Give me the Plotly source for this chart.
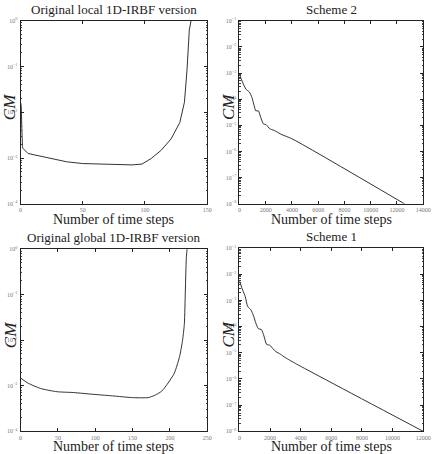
import plotly.graph_objects as go

# ---- data ----
local_steps = [0, 0.5, 1.5, 2, 6, 24, 37, 50, 63.5, 76.6, 89.7, 97.6, 105, 113, 121, 128, 131.7, 133.8, 135.6, 137, 140]
local_cm = [1.66e-2, 1.4e-2, 1.78e-3, 1.62e-3, 1.26e-3, 9.8e-4, 8.3e-4, 7.6e-4, 7.4e-4, 7.2e-4, 7.1e-4, 7.4e-4,
            9.8e-4, 1.48e-3, 2.63e-3, 6.0e-3, 1.66e-2, 8.7e-2, 0.63, 1.0, 3.0]

scheme2_steps = [0, 250, 500, 750, 950, 1120, 1245, 1445, 1620, 1820, 2040, 2320, 2620, 3240, 3990, 12580]
scheme2_cm = [8.9e-4, 4.3e-4, 2.4e-4, 1.9e-4, 1.17e-4, 5.6e-5, 3.6e-5, 3.6e-5, 2.0e-5, 1.15e-5, 1.05e-5,
              7.4e-6, 6.5e-6, 4.4e-6, 3.1e-6, 1.0e-8]

global_steps = [0, 9.6, 27, 49, 70.8, 97, 123, 149.5, 171, 180, 189, 197.6, 206, 213, 217, 219.4, 220.7, 222, 223, 225]
global_cm = [1.48e-3, 1.15e-3, 8.7e-4, 7.4e-4, 7.1e-4, 6.5e-4, 6.0e-4, 5.5e-4, 5.5e-4, 6.2e-4, 7.6e-4, 1.15e-3,
             1.9e-3, 4.4e-3, 1.0e-2, 2.3e-2, 0.12, 0.63, 1.0, 3.0]

scheme1_steps = [0, 213, 384, 534, 747, 897, 1068, 1238, 1430, 1600, 1772, 1986, 2178, 2391, 2669, 2989, 3736, 12000]
scheme1_cm = [5.6e-3, 2.45e-3, 1.38e-3, 5.9e-4, 4.4e-4, 2.8e-4, 1.38e-4, 8.3e-5, 7.8e-5, 4.4e-5, 2.1e-5, 1.95e-5,
              1.45e-5, 1.1e-5, 8.9e-6, 6.6e-6, 3.7e-6, 1.0e-8]

left_ytick_exps = [0, -1, -2, -3, -4]
right_ytick_exps = [-1, -2, -3, -4, -5, -6, -7, -8]

titles = ["Original local 1D-IRBF version", "Scheme 2", "Original global 1D-IRBF version", "Scheme 1"]
xlabel = "Number of time steps"
ylabel = "<i>CM</i>"

W, H = 439, 454
LINE = "#333333"
SERIF = "Liberation Serif, DejaVu Serif, serif"

# panel boxes in pixels: (left, right, top, bottom)
boxes = [(19, 210, 17, 203), (243, 431, 17, 203), (19, 210, 249, 434), (243, 431, 248, 434)]
xranges = [[0, 150], [0, 14000], [0, 250], [0, 12000]]
xdticks = [50, 2000, 50, 2000]
yranges = [[-4, 0], [-8, -1], [-4, 0], [-8, -1]]
yexps = [left_ytick_exps, right_ytick_exps, left_ytick_exps, right_ytick_exps]
series = [(local_steps, local_cm, "linear"), (scheme2_steps, scheme2_cm, "spline"),
          (global_steps, global_cm, "spline"), (scheme1_steps, scheme1_cm, "spline")]


def sup(e):
    s = str(e).replace("-", "\u2212")
    return f"10<sup>{s}</sup>"


fig = go.Figure()
annotations = []
for i in range(4):
    l, r, t, b = boxes[i]
    xs, ys, shape = series[i]
    xa = "x" if i == 0 else f"x{i+1}"
    ya = "y" if i == 0 else f"y{i+1}"
    fig.add_trace(go.Scatter(x=xs, y=ys, mode="lines", xaxis=xa, yaxis=ya,
                             line=dict(color=LINE, width=1, shape=shape, smoothing=0.6),
                             showlegend=False, cliponaxis=True))
    axis_common = dict(showline=True, linecolor="#222", linewidth=1, mirror="allticks",
                       ticks="inside", ticklen=3, tickcolor="#222", showgrid=False, zeroline=False,
                       tickfont=dict(family=SERIF, size=6, color="#777"))
    fig.update_layout(**{
        ("xaxis" if i == 0 else f"xaxis{i+1}"): dict(
            domain=[l / W, r / W], anchor=ya, range=xranges[i], dtick=xdticks[i], tick0=0,
            tickformat="d", exponentformat="none", separatethousands=False,
            **axis_common),
        ("yaxis" if i == 0 else f"yaxis{i+1}"): dict(
            domain=[1 - b / H, 1 - t / H], anchor=xa, type="log", range=yranges[i],
            tickmode="array", tickvals=[10.0 ** e for e in yexps[i]],
            ticktext=[sup(e) for e in yexps[i]], ticklabelstandoff=1,
            minor=dict(ticks="inside", ticklen=1.5, tickcolor="#444", showgrid=False, dtick="D1"),
            **axis_common),
    })
    cx = (l + r) / 2 / W
    annotations.append(dict(text=titles[i], x=cx, y=1 - (t - 2) / H, xref="paper", yref="paper",
                            xanchor="center", yanchor="bottom", showarrow=False,
                            font=dict(family=SERIF, size=13, color="#222")))
    annotations.append(dict(text=xlabel, x=cx, y=1 - (b + 6) / H, xref="paper", yref="paper",
                            xanchor="center", yanchor="top", showarrow=False,
                            font=dict(family=SERIF, size=14, color="#222")))
    annotations.append(dict(text=ylabel, x=(l - 11) / W, y=1 - ((t + b) / 2 - 5) / H, xref="paper", yref="paper",
                            xanchor="center", yanchor="middle", showarrow=False, textangle=-90,
                            font=dict(family=SERIF, size=17, color="#222")))

fig.update_layout(width=W, height=H, margin=dict(l=0, r=0, t=0, b=0),
                  paper_bgcolor="white", plot_bgcolor="white", annotations=annotations)
fig.write_html("out.html")
